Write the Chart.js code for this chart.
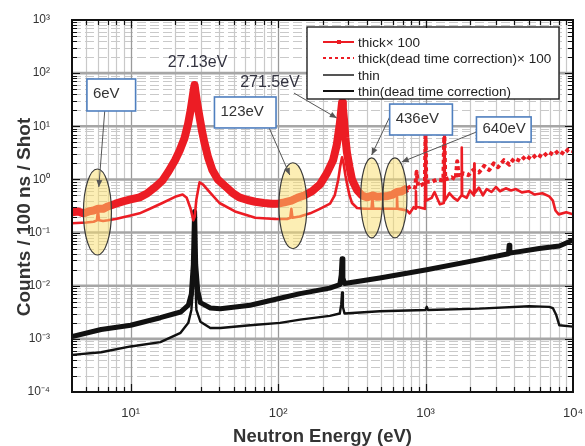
<!DOCTYPE html>
<html><head><meta charset="utf-8">
<script src="https://cdn.jsdelivr.net/npm/chart.js@4.4.0/dist/chart.umd.min.js"></script>
<style>html,body{margin:0;padding:0;background:#fff}</style>
</head><body>
<canvas id="c" width="585" height="446" style="display:block;width:585px;height:446px"></canvas>
<script>
// ---------------- data ----------------
const seriesLabels = ['thick\u00d7 100', 'thick(dead time correction)\u00d7 100', 'thin', 'thin(dead time correction)'];

// thick x100 (solid red, lower red curve)
const thickE = [4,5,5.6,5.9,6.0,6.1,6.5,7,7.9,10,11.5,13.5,16.4,20,22.5,24,25.5,26.6,27.2,27.9,29.3,31,34.7,40,51,70,95,115,121,123,125,140,165,192,225,242,256,264,271.5,278,286,293,305,317,343,380,430,436,442,600,635,640,645,700,750,780,830,855,860,865,900,990,1000,1010,1100,1150,1250,1330,1340,1350,1450,1550,1650,1750,1760,1770,1900,2000,2130,2140,2150,2300,2450,2600,2800,3000,3200,3500,3800,4100,4500,5000,5500,6200,6900,7300,7600,8000,9000,10000];
const thickV = [0.15,0.155,0.16,0.17,0.26,0.17,0.165,0.17,0.18,0.21,0.23,0.28,0.36,0.47,0.52,0.45,0.28,0.17,0.2,0.42,0.88,0.8,0.56,0.36,0.25,0.19,0.18,0.18,0.19,0.28,0.19,0.2,0.23,0.28,0.35,0.5,1.0,1.8,2.6,2.0,1.2,0.85,0.5,0.36,0.29,0.28,0.28,0.45,0.28,0.28,0.28,0.5,0.28,0.27,0.26,0.23,0.3,0.28,0.6,0.3,0.3,0.28,8.5,0.4,0.45,0.58,0.34,0.36,7,0.4,0.55,0.45,0.4,0.5,4,0.5,0.45,0.62,0.5,2.0,0.55,0.7,0.5,0.66,0.58,0.72,0.6,0.68,0.62,0.66,0.57,0.6,0.52,0.55,0.48,0.4,0.26,0.22,0.24,0.22];

// thick (dead time correction) x100 (dotted red, upper noisy red band)
const thickCorrE = [4,4.4,4.8,5.2,5.6,6.0,6.5,7,7.9,9,10,11.5,13,14.5,16.4,18,20,21.5,23.2,24.5,25.5,26.3,26.8,27.13,27.5,28.2,29.3,30.5,31.6,33.5,35.8,39,43.9,49,54.5,62,70,80,91,100,110,123,135,150,170,192,214,236,250,262,268,271.5,275,280,286,293,305,317,343,370,400,436,470,540,600,640,690,750,800,850,870,890,950,990,1000,1010,1100,1200,1320,1340,1360,1500,1600,1640,1680,1800,1950,2100,2300,2500,2700,2900,3100,3400,3700,4000,4400,4800,5200,5700,6200,6800,7400,8000,8700,9300,10000];
const thickCorrV = [0.24,0.25,0.23,0.25,0.26,0.28,0.28,0.31,0.35,0.39,0.42,0.46,0.55,0.7,0.95,1.4,2.3,3.5,6,11,20,35,50,60,45,28,15,8,5,2.6,1.5,1.0,0.74,0.56,0.46,0.41,0.38,0.36,0.35,0.35,0.37,0.4,0.45,0.5,0.6,0.8,1.3,2.3,4.5,11,20,28,22,13,6,3.2,1.7,1.0,0.63,0.5,0.46,0.5,0.47,0.48,0.52,0.58,0.6,0.68,0.75,0.7,1.4,0.75,0.8,0.85,9,0.9,0.9,1.0,0.95,7.5,1.0,1.1,1.0,2.2,1.1,1.3,1.2,1.5,1.35,1.8,1.5,2.0,1.7,2.3,1.9,2.5,2.2,2.8,2.4,3.0,2.6,3.3,2.9,3.5,3.0,3.7,3.4];

// thin (grey-black, lower black curve)
const thinE = [4,6.3,10,15.9,21.8,24.6,25.8,26.6,27.13,27.5,27.9,29.7,34.7,40.6,64.6,103,141,224,262,268,271.5,275,282,489,1000,1018,1040,2310,5050,6900,7300,7700,8080,10000];
const thinV = [0.0005,0.00056,0.00072,0.00087,0.0013,0.002,0.0035,0.011,0.2,0.011,0.0035,0.0021,0.0016,0.0016,0.0018,0.002,0.0023,0.0027,0.003,0.0045,0.0075,0.004,0.003,0.0033,0.0035,0.004,0.0035,0.0037,0.0041,0.004,0.0038,0.0028,0.0018,0.0017];

// thin (dead time correction) (black, upper noisy black band)
const thinCorrE = [4,6.3,10,15.9,21.8,24.6,25.8,26.6,27.13,27.6,28.5,29.7,34.7,40.6,64.6,103,141,224,262,268,271.5,275,282,489,1018,2310,3650,3690,3730,5900,8080,10000];
const thinCorrV = [0.0011,0.0015,0.0018,0.0025,0.0032,0.0043,0.007,0.025,0.25,0.025,0.008,0.0048,0.0038,0.0037,0.0043,0.0058,0.0071,0.009,0.0105,0.016,0.032,0.014,0.011,0.014,0.02,0.031,0.04,0.058,0.041,0.05,0.056,0.072];

// axis ticks
const xTickVals = [10, 100, 1000, 10000];
const yTickVals = [1e-4, 1e-3, 1e-2, 1e-1, 1, 10, 100, 1000];

// annotations (data units)
const peakLabels = [{text:'27.13eV', x:28.4, y:155}, {text:'271.5eV', x:88, y:65}];
const boxes = [
  {text:'6eV',   x0:5.05, x1:10.8, y0:77.6, y1:19.4},
  {text:'123eV', x0:37,   x1:96.8, y0:35.6, y1:9.3},
  {text:'436eV', x0:571,  x1:1521, y0:26.2, y1:6.86},
  {text:'640eV', x0:2214, x1:5200, y0:15,   y1:5.06}
];
const leaders = [
  {x1:6.67, y1:19.4, x2:6.08, y2:0.72},
  {x1:87,   y1:9.3,  x2:120,  y2:1.21},
  {x1:128,  y1:42.3, x2:250,  y2:14.3},
  {x1:571,  y1:15,   x2:431,  y2:2.88},
  {x1:2213, y1:7.8,  x2:689,  y2:2.13}
];
const ellipses = [
  {x:5.95, y:0.244, rx:14, ry:43},
  {x:126,  y:0.32,  rx:14, ry:43},
  {x:431,  y:0.45,  rx:11, ry:40},
  {x:620,  y:0.45,  rx:12, ry:40}
];

// ---------------- helpers ----------------
const SUP = {'-':'\u207b','0':'\u2070','1':'\u00b9','2':'\u00b2','3':'\u00b3','4':'\u2074','5':'\u2075','6':'\u2076','7':'\u2077','8':'\u2078','9':'\u2079'};
function pow10Label(v){ const e = Math.round(Math.log10(v)); return '10' + String(e).split('').map(c => SUP[c]).join(''); }
function pts(E, V){ return E.map((e,i) => ({x:e, y:V[i]})); }
const RED = 'rgb(236,28,36)';

function minorVals(min, max){
  const out = [];
  for (let d = -5; d <= 5; d++) for (let k = 1; k <= 9; k++) {
    const v = k * Math.pow(10, d);
    if (v > min * 1.0001 && v < max * 0.9999) out.push({v, major: k === 1});
  }
  return out;
}

const decorPlugin = {
  id: 'decor',
  beforeDatasetsDraw(chart){
    const {ctx, chartArea:a, scales:{x, y}} = chart;
    ctx.save();
    ctx.beginPath(); ctx.rect(a.left, a.top, a.right-a.left, a.bottom-a.top); ctx.clip();
    const xs = minorVals(x.min, x.max), ys = minorVals(y.min, y.max);
    ctx.strokeStyle = '#c9c9c9'; ctx.lineWidth = 1.2;
    xs.filter(t => !t.major).forEach(t => { const p = Math.round(x.getPixelForValue(t.v)) + 0.5; ctx.beginPath(); ctx.moveTo(p, a.top); ctx.lineTo(p, a.bottom); ctx.stroke(); });
    ctx.setLineDash([9, 4]);
    ys.filter(t => !t.major).forEach(t => { const p = Math.round(y.getPixelForValue(t.v)) + 0.5; ctx.beginPath(); ctx.moveTo(a.left, p); ctx.lineTo(a.right, p); ctx.stroke(); });
    ctx.setLineDash([]);
    ctx.strokeStyle = '#9a9a9a'; ctx.lineWidth = 1.3;
    xs.filter(t => t.major).forEach(t => { const p = Math.round(x.getPixelForValue(t.v)) + 0.5; ctx.beginPath(); ctx.moveTo(p, a.top); ctx.lineTo(p, a.bottom); ctx.stroke(); });
    ctx.strokeStyle = '#a6a6a6'; ctx.lineWidth = 2.6;
    ys.filter(t => t.major).forEach(t => { const p = y.getPixelForValue(t.v); ctx.beginPath(); ctx.moveTo(a.left, p); ctx.lineTo(a.right, p); ctx.stroke(); });
    ctx.restore();
  },
  afterDatasetsDraw(chart){
    const {ctx, chartArea:a, scales:{x, y}} = chart;
    ctx.save();
    ellipses.forEach(e => {
      const cx = x.getPixelForValue(e.x), cy = y.getPixelForValue(e.y);
      ctx.beginPath(); ctx.ellipse(cx, cy, e.rx, e.ry, 0, 0, Math.PI*2);
      ctx.fillStyle = 'rgba(250,222,105,0.5)'; ctx.fill();
      ctx.strokeStyle = '#3a3a3a'; ctx.lineWidth = 1.2; ctx.stroke();
    });
    ctx.strokeStyle = '#555'; ctx.fillStyle = '#555'; ctx.lineWidth = 1;
    leaders.forEach(l => {
      const x1 = x.getPixelForValue(l.x1), y1 = y.getPixelForValue(l.y1);
      const x2 = x.getPixelForValue(l.x2), y2 = y.getPixelForValue(l.y2);
      ctx.beginPath(); ctx.moveTo(x1, y1); ctx.lineTo(x2, y2); ctx.stroke();
      const ang = Math.atan2(y2-y1, x2-x1), L = 7, W = 3;
      ctx.beginPath(); ctx.moveTo(x2, y2);
      ctx.lineTo(x2 - L*Math.cos(ang) + W*Math.sin(ang), y2 - L*Math.sin(ang) - W*Math.cos(ang));
      ctx.lineTo(x2 - L*Math.cos(ang) - W*Math.sin(ang), y2 - L*Math.sin(ang) + W*Math.cos(ang));
      ctx.closePath(); ctx.fill();
    });
    boxes.forEach(b => {
      const x0 = x.getPixelForValue(b.x0), x1 = x.getPixelForValue(b.x1);
      const y0 = y.getPixelForValue(b.y0), y1 = y.getPixelForValue(b.y1);
      ctx.fillStyle = '#fff'; ctx.fillRect(x0, y0, x1-x0, y1-y0);
      ctx.strokeStyle = '#4f7fbf'; ctx.lineWidth = 1.6; ctx.strokeRect(x0, y0, x1-x0, y1-y0);
      ctx.fillStyle = '#333'; ctx.font = '15px "Liberation Sans", Arial, sans-serif';
      ctx.textAlign = 'left'; ctx.textBaseline = 'middle';
      ctx.fillText(b.text, x0 + 6, (y0 + y1)/2 - 1);
    });
    ctx.fillStyle = '#333340'; ctx.font = '16px "Liberation Sans", Arial, sans-serif';
    ctx.textAlign = 'center'; ctx.textBaseline = 'middle';
    peakLabels.forEach(p => ctx.fillText(p.text, x.getPixelForValue(p.x), y.getPixelForValue(p.y)));

    // legend
    const L = {x: a.right - 266, y: a.top + 7, w: 252, h: 72};
    ctx.fillStyle = '#fff'; ctx.fillRect(L.x, L.y, L.w, L.h);
    ctx.strokeStyle = '#111'; ctx.lineWidth = 1.3; ctx.strokeRect(L.x, L.y, L.w, L.h);
    const rowsY = [15, 31, 48, 64];
    chart.data.datasets.forEach((ds, i) => {
      const ly = L.y + rowsY[i];
      ctx.save();
      ctx.strokeStyle = ds.legendColor; ctx.lineWidth = 2;
      ctx.setLineDash(ds.legendDash || []);
      ctx.beginPath(); ctx.moveTo(L.x + 16, ly); ctx.lineTo(L.x + 47, ly); ctx.stroke();
      ctx.restore();
      if (ds.legendMarker) { ctx.fillStyle = ds.legendColor; ctx.fillRect(L.x + 30, ly - 2, 4, 4); }
      ctx.fillStyle = '#222'; ctx.font = '13.5px "Liberation Sans", Arial, sans-serif';
      ctx.textAlign = 'left'; ctx.textBaseline = 'middle';
      ctx.fillText(ds.label, L.x + 51, ly + 1);
    });

    const xs = minorVals(x.min, x.max), ys = minorVals(y.min, y.max);
    ctx.strokeStyle = '#111'; ctx.lineWidth = 1.2;
    xs.forEach(t => { const p = Math.round(x.getPixelForValue(t.v)) + 0.5, len = t.major ? 8 : 5;
      ctx.beginPath(); ctx.moveTo(p, a.bottom); ctx.lineTo(p, a.bottom - len); ctx.moveTo(p, a.top); ctx.lineTo(p, a.top + len); ctx.stroke(); });
    ys.forEach(t => { const p = Math.round(y.getPixelForValue(t.v)) + 0.5, len = t.major ? 8 : 5;
      ctx.beginPath(); ctx.moveTo(a.left, p); ctx.lineTo(a.left + len, p); ctx.moveTo(a.right, p); ctx.lineTo(a.right - len, p); ctx.stroke(); });
    ctx.lineWidth = 2; ctx.strokeStyle = '#111';
    ctx.strokeRect(a.left, a.top, a.right - a.left, a.bottom - a.top);

    ctx.save();
    ctx.translate(25, 217); ctx.rotate(-Math.PI/2);
    ctx.fillStyle = '#333'; ctx.font = 'bold 19px "Liberation Sans", Arial, sans-serif';
    ctx.textAlign = 'center'; ctx.textBaseline = 'middle';
    ctx.fillText('Counts / 100 ns / Shot', 0, 0);
    ctx.restore();
    ctx.restore();
  }
};

new Chart(document.getElementById('c'), {
  type: 'line',
  data: {
    datasets: [
      { label: seriesLabels[0], data: pts(thickE, thickV), borderColor: RED, borderWidth: 2.6,
        legendColor: RED, legendMarker: true, clip: 0 },
      { label: seriesLabels[1], data: pts(thickCorrE, thickCorrV), borderColor: RED, borderWidth: 8,
        legendColor: RED, legendDash: [3, 3], clip: 0,
        segment: {
          borderWidth: c => c.p0.parsed.x >= 700 ? 4 : undefined,
          borderDash: c => c.p0.parsed.x >= 700 ? [4, 3] : undefined
        } },
      { label: seriesLabels[2], data: pts(thinE, thinV), borderColor: '#111', borderWidth: 2.4,
        legendColor: '#555', clip: 0 },
      { label: seriesLabels[3], data: pts(thinCorrE, thinCorrV), borderColor: '#111', borderWidth: 5,
        legendColor: '#111', clip: 0 }
    ]
  },
  options: {
    responsive: false, animation: false, devicePixelRatio: 1,
    elements: { point: { radius: 0 }, line: { tension: 0, borderJoinStyle: 'round' } },
    layout: { padding: { top: 20, right: 12, left: 0, bottom: 0 } },
    plugins: { legend: { display: false }, tooltip: { enabled: false } },
    scales: {
      x: {
        type: 'logarithmic', min: 4, max: 10000, position: 'bottom',
        grid: { display: false }, border: { display: false },
        afterBuildTicks: s => { s.ticks = xTickVals.map(v => ({ value: v })); },
        afterFit: s => { s.height = 54; s.paddingLeft = 0; s.paddingRight = 0; },
        ticks: { autoSkip: false, maxRotation: 0, padding: 6, color: '#333',
          font: { family: '"Liberation Sans", Arial, sans-serif', size: 13 },
          callback: v => pow10Label(v) },
        title: { display: true, text: 'Neutron Energy (eV)', color: '#333',
          font: { family: '"Liberation Sans", Arial, sans-serif', size: 18.5, weight: 'bold', lineHeight: 1 },
          padding: { top: 0, bottom: 0 } }
      },
      y: {
        type: 'logarithmic', min: 1e-4, max: 1e3,
        grid: { display: false }, border: { display: false },
        afterBuildTicks: s => { s.ticks = yTickVals.map(v => ({ value: v })); },
        afterFit: s => { s.width = 72; s.paddingTop = 0; s.paddingBottom = 0; },
        ticks: { autoSkip: false, padding: 14, color: '#333',
          font: { family: '"Liberation Sans", Arial, sans-serif', size: 12 },
          callback: v => pow10Label(v) }
      }
    }
  },
  plugins: [decorPlugin]
});
</script>
</body></html>
